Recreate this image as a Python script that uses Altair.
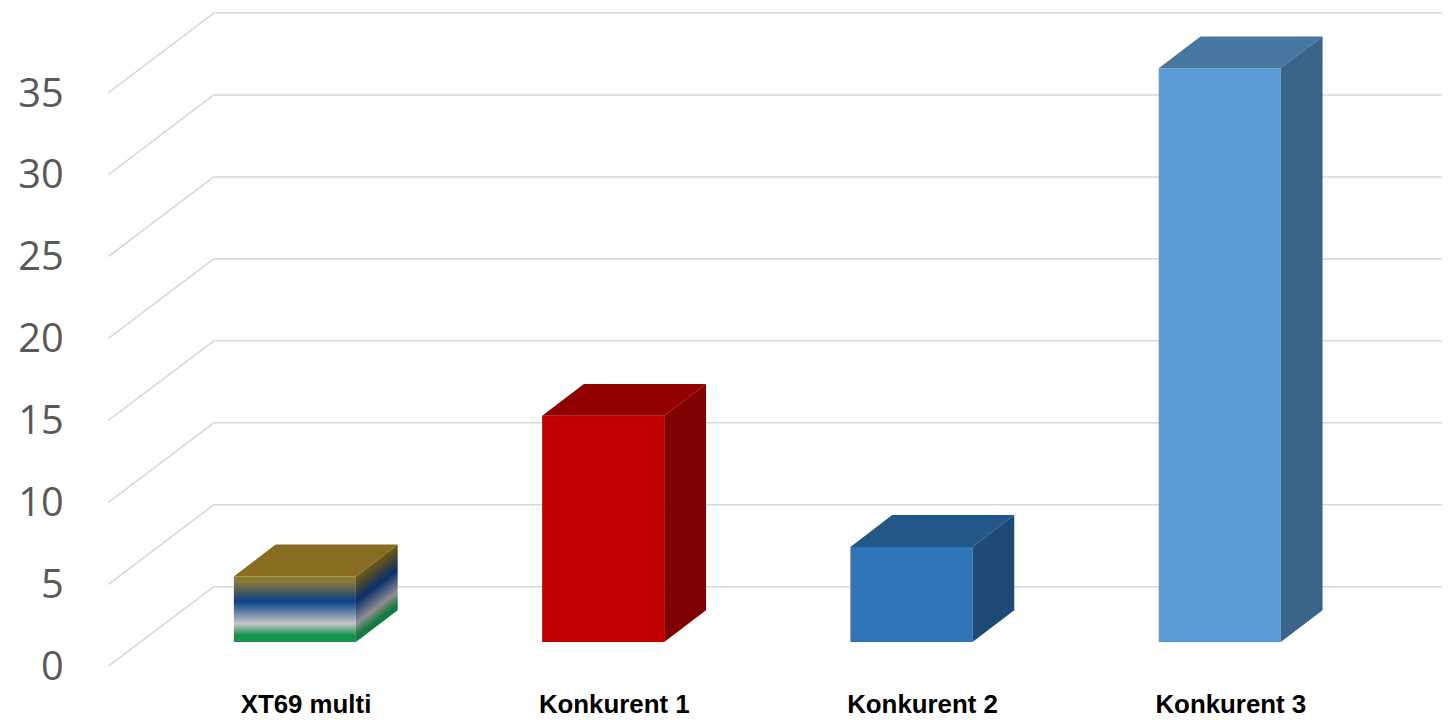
import altair as alt
import pandas as pd

# ---------------- data ----------------
categories = ["XT69 multi", "Konkurent 1", "Konkurent 2", "Konkurent 3"]
values = [4, 13.8, 5.8, 35]
tick_values = [0, 5, 10, 15, 20, 25, 30, 35]

# ---------------- styles ----------------
front_colors = ["#8C7A2C", "#C00000", "#2E75B6", "#5B9BD5"]
top_colors = ["#876C22", "#920000", "#23578A", "#4676A2"]
side_colors = ["#5E4F1A", "#7F0000", "#1E4A75", "#3A6588"]
GRID = "#D9D9D9"

# geometry (in scale units): oblique 3-D projection constants
BASE = 1.48          # floor offset of the bars' front faces
HALF_W = 0.198       # half bar width
DX, DY = 0.1355, 1.942        # bar depth offset
X_FRONT = -0.6048             # front edge of floor
X_WALL = X_FRONT + 0.3419     # back wall left edge
X_RIGHT = 3.721
WALL_DY = 4.854
LABEL_U = -2.86
LABEL_SHIFT = 0.036
TICK_LABEL_X = X_FRONT - 0.145

W, H = 1341, 712
xs = alt.Scale(domain=[X_FRONT, X_RIGHT], nice=False, zero=False)
ys = alt.Scale(domain=[-3.16, 40.04], nice=False, zero=False)

bars = pd.DataFrame({"category": categories, "value": values,
                     "idx": list(range(len(categories)))})
ticks = pd.DataFrame({"tick": tick_values})


def X(f):
    return alt.X(f, type="quantitative", scale=xs, axis=None)


def Y(f):
    return alt.Y(f, type="quantitative", scale=ys, axis=None)


# grid: diagonal floor lines + back wall lines
diag = alt.Chart(ticks).transform_calculate(
    x0=f"{X_FRONT}", x1=f"{X_WALL}", yb=f"datum.tick + {WALL_DY}"
).mark_rule(color=GRID, strokeWidth=1.6).encode(
    x=X("x0"), x2="x1:Q", y=Y("tick"), y2="yb:Q"
)
wall = alt.Chart(ticks).transform_calculate(
    x0=f"{X_WALL}", x1=f"{X_RIGHT}", yb=f"datum.tick + {WALL_DY}"
).mark_rule(color=GRID, strokeWidth=1.6).encode(
    x=X("x0"), x2="x1:Q", y=Y("yb")
)
tick_labels = alt.Chart(ticks).transform_calculate(
    lx=f"{TICK_LABEL_X}"
).mark_text(font="Open Sans", fontSize=40, color="#595959",
            align="right", baseline="middle", dy=2).encode(
    x=X("lx"), y=Y("tick"), text="tick:Q"
)

base = alt.Chart(bars)


def fill_scale(rng):
    return alt.Fill("category:N", scale=alt.Scale(domain=categories, range=rng),
                    legend=None)


front = base.transform_filter("datum.idx > 0").transform_calculate(
    fx=f"datum.idx - {HALF_W}", fx2=f"datum.idx + {HALF_W}",
    fy=f"{BASE}", fy2=f"{BASE} + datum.value"
).mark_rect().encode(
    x=X("fx"), x2="fx2:Q", y=Y("fy"), y2="fy2:Q", fill=fill_scale(front_colors)
)

front_grad = alt.Gradient(
    gradient="linear", x1=0, y1=0, x2=0, y2=1,
    stops=[alt.GradientStop(color="#8E7B2F", offset=0),
           alt.GradientStop(color="#8A7A34", offset=0.08),
           alt.GradientStop(color="#0B3F8A", offset=0.38),
           alt.GradientStop(color="#C6C6C6", offset=0.72),
           alt.GradientStop(color="#15924C", offset=0.9),
           alt.GradientStop(color="#15924C", offset=1)])
front_xt = base.transform_filter("datum.idx == 0").transform_calculate(
    fx=f"datum.idx - {HALF_W}", fx2=f"datum.idx + {HALF_W}",
    fy=f"{BASE}", fy2=f"{BASE} + datum.value"
).mark_rect(fill=front_grad).encode(
    x=X("fx"), x2="fx2:Q", y=Y("fy"), y2="fy2:Q"
)

two = dict(t0="0", t1="1")

top = base.transform_calculate(**two).transform_fold(
    ["t0", "t1"], as_=["k", "t"]
).transform_calculate(
    ty=f"{BASE} + datum.value + datum.t * {DY}",
    tx=f"datum.idx - {HALF_W} + datum.t * {DX}",
    tx2=f"datum.idx + {HALF_W} + datum.t * {DX}"
).mark_area(orient="horizontal").encode(
    y=Y("ty"), x=X("tx"), x2="tx2:Q", detail="category:N",
    fill=fill_scale(top_colors)
)

side_calc = dict(
    sx=f"datum.idx + {HALF_W} + datum.t * {DX}",
    sy=f"{BASE} + datum.value + datum.t * {DY}",
    sy2=f"{BASE} + datum.t * {DY}"
)
side = base.transform_filter("datum.idx > 0").transform_calculate(**two).transform_fold(
    ["t0", "t1"], as_=["k", "t"]
).transform_calculate(**side_calc).mark_area(orient="vertical").encode(
    x=X("sx"), y=Y("sy"), y2="sy2:Q", detail="category:N",
    fill=fill_scale(side_colors)
)

side_grad = alt.Gradient(
    gradient="linear", x1=0, y1=0.33, x2=0.199, y2=0.934,
    stops=[alt.GradientStop(color="#6A5A1E", offset=0),
           alt.GradientStop(color="#5E5020", offset=0.08),
           alt.GradientStop(color="#0A2F68", offset=0.38),
           alt.GradientStop(color="#8E8E8E", offset=0.72),
           alt.GradientStop(color="#137A40", offset=0.92),
           alt.GradientStop(color="#137A40", offset=1)])
side_xt = base.transform_filter("datum.idx == 0").transform_calculate(**two).transform_fold(
    ["t0", "t1"], as_=["k", "t"]
).transform_calculate(**side_calc).mark_area(orient="vertical", fill=side_grad).encode(
    x=X("sx"), y=Y("sy"), y2="sy2:Q", detail="category:N"
)

labels = base.transform_calculate(
    lx=f"datum.idx + {LABEL_SHIFT}", ly=f"{LABEL_U}"
).mark_text(font="Liberation Sans", fontWeight="bold", fontSize=26,
            color="#000000", baseline="alphabetic", align="center").encode(
    x=X("lx"), y=Y("ly"), text="category:N"
)

chart = alt.layer(
    diag, wall, tick_labels, front, front_xt, top, side, side_xt, labels
).resolve_scale(fill="independent").properties(
    width=W, height=H, autosize="none",
    padding={"left": 101, "top": 0, "right": 0, "bottom": 0}
).configure_view(stroke=None)

chart.save("out.html", embed_options={"renderer": "svg", "actions": False})
